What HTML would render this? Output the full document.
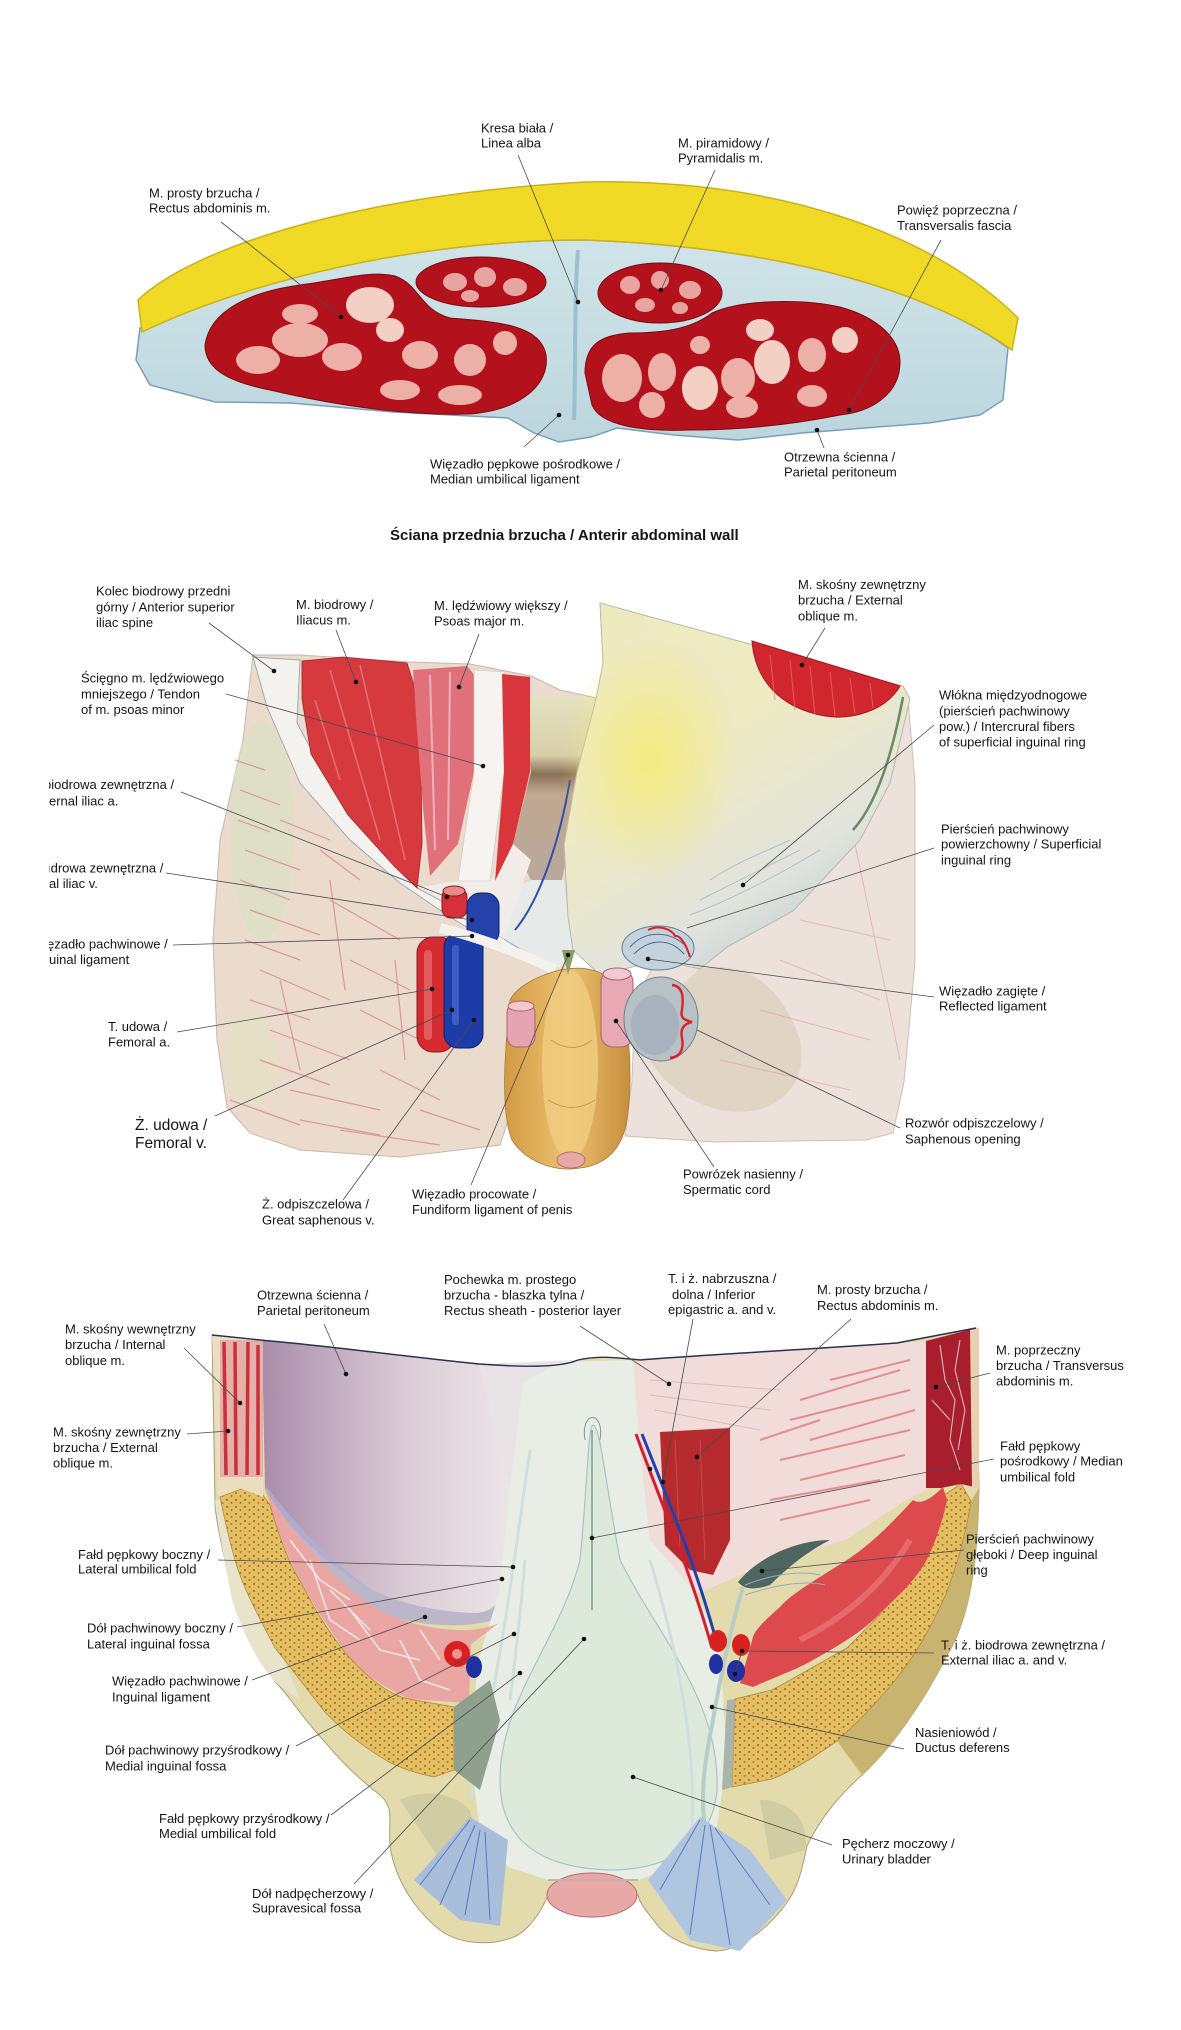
<!DOCTYPE html>
<html><head><meta charset="utf-8">
<style>
html,body{margin:0;padding:0;background:#fff;}
svg{display:block;}
text{font-family:"Liberation Sans",Arial,sans-serif;font-size:13px;fill:#151515;}
.b{font-weight:bold;font-size:15px;}
.big{font-size:15.5px;}
</style></head><body>
<svg width="1181" height="2030" viewBox="0 0 1181 2030" xmlns="http://www.w3.org/2000/svg">
<defs>
 <pattern id="dots" width="9" height="7" patternUnits="userSpaceOnUse">
  <rect width="9" height="7" fill="#e3bf62"/>
  <ellipse cx="2" cy="2" rx="1.1" ry="0.7" fill="#8a4a1a"/>
  <ellipse cx="6.5" cy="5" rx="1" ry="0.7" fill="#9a5a20"/>
 </pattern>
 <linearGradient id="lav" x1="0" x2="1" y1="0" y2="0">
  <stop offset="0" stop-color="#a88ca8"/><stop offset="0.25" stop-color="#bfa8bf"/><stop offset="0.6" stop-color="#dccdd6"/><stop offset="1" stop-color="#ebe6e8"/>
 </linearGradient>
 <linearGradient id="flap" x1="0" y1="0" x2="0.6" y2="1">
  <stop offset="0" stop-color="#eeeac0"/><stop offset="0.45" stop-color="#eeeac2"/><stop offset="0.8" stop-color="#e2e4dc"/><stop offset="1" stop-color="#c6d0d8"/>
 </linearGradient>
 <radialGradient id="yel" cx="0.5" cy="0.5" r="0.5"><stop offset="0" stop-color="#f3ec80"/><stop offset="1" stop-color="#f3ec80" stop-opacity="0"/></radialGradient>
 <linearGradient id="penis" x1="0" x2="1"><stop offset="0" stop-color="#d29a44"/><stop offset="0.5" stop-color="#ecc270"/><stop offset="1" stop-color="#c68e3e"/></linearGradient>
 <linearGradient id="blueband" x1="0" x2="0" y1="0" y2="1"><stop offset="0" stop-color="#cfe4e8"/><stop offset="1" stop-color="#bcd6de"/></linearGradient>
 <linearGradient id="brn" x1="0" x2="0" y1="0" y2="1"><stop offset="0" stop-color="#e4e2c0"/><stop offset="0.3" stop-color="#d8cfa8"/><stop offset="0.4" stop-color="#8a7058"/><stop offset="0.5" stop-color="#c0a890"/><stop offset="1" stop-color="#b8a8a0"/></linearGradient>
 <clipPath id="lclip"><rect x="49" y="0" width="300" height="2030"/></clipPath>
</defs>
<rect width="1181" height="2030" fill="#fff"/>

<!-- ================= TOP ILLUSTRATION ================= -->
<path d="M140,328 C250,280 420,240 585,240 C800,248 940,298 1008,348 L1003,400 L980,415 L929,423 L865,428 L802,433 L738,440 L674,435 L617,428 L591,437 L559,442 L534,433 L508,418 L393,412 L291,403 L215,402 L150,385 L136,360 Z" fill="url(#blueband)" stroke="#7c9fb4" stroke-width="1.5"/>
<path d="M578,250 C574,300 576,360 574,420" stroke="#9cc0cc" stroke-width="4" fill="none"/>
<path d="M138,300 C190,250 350,195 585,182 C790,178 940,240 1018,318 L1012,350 C940,298 800,248 585,240 C420,240 250,280 142,332 Z" fill="#f1da25" stroke="#c9b01c" stroke-width="1.5"/>
<!-- left rectus -->
<path d="M205,345 C210,310 250,292 300,285 C340,280 370,270 395,276 C420,285 420,310 450,318 C500,322 540,325 546,355 C550,385 520,410 470,414 C400,416 330,404 270,390 C230,382 205,370 205,345 Z" fill="#b3121c" stroke="#7a0a10" stroke-width="1"/>
<g fill="#ecb0a6">
<ellipse cx="370" cy="305" rx="24" ry="18" fill="#f3cfc4"/><ellipse cx="300" cy="340" rx="28" ry="17"/><ellipse cx="342" cy="357" rx="20" ry="14"/><ellipse cx="258" cy="360" rx="22" ry="14"/><ellipse cx="420" cy="355" rx="18" ry="14"/><ellipse cx="470" cy="360" rx="16" ry="16"/><ellipse cx="505" cy="343" rx="12" ry="12"/><ellipse cx="300" cy="314" rx="18" ry="10"/><ellipse cx="400" cy="390" rx="20" ry="10"/><ellipse cx="460" cy="395" rx="22" ry="10"/><ellipse cx="390" cy="330" rx="14" ry="12" fill="#f3cfc4"/></g>
<ellipse cx="481" cy="282" rx="65" ry="25" fill="#b3121c" stroke="#7a0a10"/>
<g fill="#e8a4a0"><ellipse cx="455" cy="282" rx="12" ry="9"/><ellipse cx="485" cy="277" rx="11" ry="10"/><ellipse cx="515" cy="287" rx="12" ry="9"/><ellipse cx="470" cy="296" rx="9" ry="6"/></g>
<ellipse cx="660" cy="293" rx="62" ry="30" fill="#b3121c" stroke="#7a0a10"/>
<g fill="#e8a4a0"><ellipse cx="630" cy="285" rx="10" ry="9"/><ellipse cx="660" cy="280" rx="9" ry="9"/><ellipse cx="690" cy="290" rx="11" ry="9"/><ellipse cx="645" cy="305" rx="10" ry="7"/><ellipse cx="680" cy="308" rx="8" ry="6"/></g>
<!-- right rectus -->
<path d="M585,373 C585,345 600,335 630,333 C660,333 690,330 712,313 C740,300 800,298 840,307 C880,318 900,340 900,362 C900,395 870,412 840,415 C790,425 740,430 690,430 C640,432 600,425 592,405 Z" fill="#b3121c" stroke="#7a0a10"/>
<g fill="#ecb0a6">
<ellipse cx="622" cy="378" rx="20" ry="24"/><ellipse cx="662" cy="372" rx="14" ry="19"/><ellipse cx="700" cy="388" rx="18" ry="22" fill="#f3cfc4"/><ellipse cx="738" cy="378" rx="17" ry="20"/><ellipse cx="772" cy="362" rx="18" ry="22" fill="#f3cfc4"/><ellipse cx="812" cy="355" rx="14" ry="17"/><ellipse cx="760" cy="330" rx="14" ry="11" fill="#f3cfc4"/><ellipse cx="845" cy="340" rx="13" ry="13" fill="#f3cfc4"/><ellipse cx="700" cy="345" rx="10" ry="9"/><ellipse cx="652" cy="405" rx="13" ry="13"/><ellipse cx="742" cy="407" rx="16" ry="11"/><ellipse cx="812" cy="396" rx="15" ry="11"/></g>

<g stroke="#4a4a4a" stroke-width="0.8">
<line x1="518" y1="155" x2="578" y2="302"/>
<line x1="715" y1="170" x2="661" y2="290"/>
<line x1="221" y1="222" x2="341" y2="317"/>
<line x1="941" y1="240" x2="849" y2="410"/>
<line x1="524" y1="447" x2="559" y2="415"/>
<line x1="824" y1="448" x2="817" y2="430"/>
</g>
<g fill="#111"><circle cx="578" cy="302" r="2.3"/><circle cx="661" cy="290" r="2.3"/><circle cx="341" cy="317" r="2.3"/><circle cx="849" cy="410" r="2.3"/><circle cx="559" cy="415" r="2.3"/><circle cx="817" cy="430" r="2.3"/></g>

<text x="481" y="132.5">Kresa biała /</text><text x="481" y="147.5">Linea alba</text>
<text x="678" y="147.5">M. piramidowy /</text><text x="678" y="162.5">Pyramidalis m.</text>
<text x="149" y="197.5">M. prosty brzucha /</text><text x="149" y="212.5">Rectus abdominis m.</text>
<text x="897" y="214.5">Powięź poprzeczna /</text><text x="897" y="230">Transversalis fascia</text>
<text x="430" y="468.5">Więzadło pępkowe pośrodkowe /</text><text x="430" y="483.5">Median umbilical ligament</text>
<text x="784" y="461.5">Otrzewna ścienna /</text><text x="784" y="476.5">Parietal peritoneum</text>
<text x="390" y="540" class="b">Ściana przednia brzucha / Anterir abdominal wall</text>

<!-- ================= MIDDLE ILLUSTRATION ================= -->
<!-- left thigh -->
<path d="M253,655 L300,655 L410,662 L470,664 L531,676 L560,690 L597,698 L577,772 L564,844 L568,917 L573,950 L560,975 L540,1000 L515,1100 L500,1145 L400,1157 L300,1150 L250,1133 L227,1107 L217,1040 L213,940 L220,840 L243,740 Z" fill="#eadbcc" stroke="#c8b8a8" stroke-width="1"/>
<ellipse cx="262" cy="830" rx="32" ry="110" fill="#d6e2c4" opacity="0.55"/>
<ellipse cx="250" cy="1060" rx="25" ry="50" fill="#e0e4c4" opacity="0.5"/>
<g stroke="#d36a7a" stroke-width="1.2" opacity="0.6" fill="none">
<path d="M235,760 L265,770"/><path d="M240,790 L280,805"/><path d="M238,820 L270,832"/><path d="M245,850 L300,870"/><path d="M240,880 L290,900"/><path d="M250,910 L320,935"/><path d="M245,940 L300,960"/><path d="M260,970 L330,1000"/><path d="M250,1000 L310,1020"/><path d="M270,1030 L350,1060"/><path d="M260,1060 L330,1085"/><path d="M290,1090 L380,1110"/><path d="M300,760 L330,800"/><path d="M320,850 L360,880"/><path d="M330,900 L400,940"/><path d="M350,960 L410,990"/><path d="M360,1010 L420,1040"/><path d="M380,1070 L440,1100"/><path d="M300,1120 L380,1135"/><path d="M395,960 L405,1060"/><path d="M280,980 L300,1070"/><path d="M330,880 L345,990"/><path d="M280,820 L330,840"/><path d="M230,1100 L300,1125"/><path d="M340,1130 L440,1145"/><path d="M420,1110 L480,1130"/>
</g>
<!-- right thigh -->
<path d="M908,699 L915,783 L915,962 L904,1082 L893,1133 L866,1140 L715,1142 L625,1136 L632,1081 L635,1000 L660,954 L692,935 L738,906 L807,866 L871,801 L890,772 Z" fill="#ece1db" stroke="#cdbfb8" stroke-width="1"/>
<path d="M700,969 C740,960 780,980 800,1040 C810,1090 770,1120 720,1110 C680,1100 640,1070 640,1020 Z" fill="#d9cbb6" opacity="0.6"/>
<g stroke="#dba0ac" stroke-width="1" opacity="0.6"><path d="M780,960 L880,1000"/><path d="M760,1010 L870,1040"/><path d="M800,920 L890,940"/><path d="M720,1060 L850,1090"/><path d="M850,820 L900,1060"/></g>
<!-- central brownish -->
<path d="M520,697 L597,698 L577,772 L568,850 L560,890 L531,880 L513,844 L531,772 Z" fill="url(#brn)"/>
<path d="M504,939 L559,968 L573,950 L568,917 L564,880 L531,880 L510,890 Z" fill="#e6ebea"/>
<path d="M570,780 C560,840 540,900 515,930" stroke="#3050a8" stroke-width="2" fill="none"/>
<!-- right flap -->
<path d="M600,603 L903,686 L910,699 L890,783 L860,840 L793,911 L727,947 L700,969 L660,960 L640,965 L600,975 L573,950 L568,917 L564,844 L577,772 L596,699 L603,663 Z" fill="url(#flap)" stroke="#b8b8a8" stroke-width="1"/>
<ellipse cx="650" cy="760" rx="90" ry="120" fill="url(#yel)"/>
<path d="M903,697 C895,740 880,800 853,830" stroke="#6a8a60" stroke-width="2.5" fill="none"/>
<g stroke="#9eb0c0" stroke-width="1" opacity="0.7" fill="none"><path d="M700,900 C740,880 780,860 800,850"/><path d="M690,915 C730,900 770,880 820,850"/><path d="M710,880 C740,860 770,850 790,840"/></g>
<path d="M752,641 L900,686 C885,712 850,720 825,716 C780,708 755,680 752,641 Z" fill="#d2262e" stroke="#a01820"/>
<g stroke="#f07070" stroke-width="1" opacity="0.7"><path d="M770,655 L775,700"/><path d="M790,660 L795,710"/><path d="M810,666 L815,715"/><path d="M830,672 L835,716"/><path d="M850,678 L855,714"/><path d="M870,683 L873,708"/></g>
<!-- left white band (inguinal lig + spine) -->
<path d="M253,657 L300,660 L297,723 L333,790 L377,847 L417,888 L462,912 L504,939 L553,970 L500,947 L450,917 L400,883 L350,840 L300,783 L267,707 Z" fill="#f4f2ef" stroke="#9aa4b0" stroke-width="0.9"/>
<path d="M413,884 L421,887 L458,881 L490,881 L513,844 L531,860 L504,939 L462,912 Z" fill="#f1ece8"/>
<!-- iliacus -->
<path d="M302,661 L343,657 L407,663 L414,685 L421,772 L422,844 L417,888 L394,866 L348,815 L311,754 L302,699 Z" fill="#d63a3e" stroke="#a52228" stroke-width="0.8"/>
<g stroke="#ec8a88" stroke-width="1.5" opacity="0.7"><path d="M330,670 L380,840"/><path d="M360,665 L405,860"/><path d="M315,700 L340,780"/></g>
<!-- psoas -->
<path d="M413,670 L467,666 L476,677 L474,772 L458,844 L430,876 L423,808 L416,717 Z" fill="#e0707a"/>
<g stroke="#f4c0c4" stroke-width="2" opacity="0.8"><path d="M430,675 L435,850"/><path d="M450,672 L448,840"/></g>
<path d="M474,670 L504,672 L504,772 L490,881 L458,881 L474,772 Z" fill="#f6f3f0" stroke="#c8c8c8" stroke-width="0.6"/>
<path d="M502,674 L530,677 L530,772 L513,844 L495,881 L504,772 Z" fill="#d8363c"/>
<!-- vessels -->
<rect x="442" y="888" width="25" height="30" rx="9" fill="#d8303a" stroke="#8a1a20"/>
<ellipse cx="454" cy="891" rx="11" ry="5" fill="#e88a8a" stroke="#8a1a20"/>
<rect x="467" y="893" width="32" height="52" rx="13" fill="#2442aa" stroke="#10206a"/>
<rect x="417" y="937" width="38" height="115" rx="16" fill="#d42a30" stroke="#8a1a20"/>
<rect x="424" y="950" width="8" height="90" rx="4" fill="#ea7070" opacity="0.7"/>
<rect x="444" y="933" width="39" height="115" rx="14" fill="#1e3ca8" stroke="#10206a"/>
<rect x="452" y="945" width="7" height="80" rx="3" fill="#4a6ad0" opacity="0.7"/>
<path d="M440,928 C470,935 520,952 555,970" stroke="#f4f2ef" stroke-width="10" fill="none"/>
<!-- penis -->
<path d="M510,1000 C505,1050 500,1110 512,1140 C528,1165 560,1172 580,1168 C605,1165 622,1150 627,1120 C633,1080 630,1020 618,990 C608,970 585,965 560,970 C540,975 518,985 510,1000 Z" fill="url(#penis)" stroke="#a87838" stroke-width="0.8"/>
<ellipse cx="570" cy="1065" rx="28" ry="95" fill="#f0cc80" opacity="0.85"/>
<path d="M551,1040 C565,1050 580,1050 592,1040" stroke="#c8984a" fill="none"/>
<path d="M548,1100 C565,1110 580,1110 595,1100" stroke="#c8984a" fill="none"/>
<ellipse cx="571" cy="1160" rx="14" ry="8" fill="#e8a8a8" stroke="#b07070"/>
<rect x="507" y="1003" width="28" height="44" rx="10" fill="#e6a4b0" stroke="#a86070"/>
<ellipse cx="521" cy="1006" rx="13" ry="5" fill="#f4c8d0" stroke="#a86070"/>
<rect x="601" y="970" width="32" height="77" rx="12" fill="#e8a8b4" stroke="#a86070"/>
<ellipse cx="617" cy="974" rx="14" ry="6" fill="#f4c8d0" stroke="#a86070"/>
<path d="M562,950 L568,975 L575,950 Z" fill="#8aa060"/>
<!-- rings -->
<ellipse cx="658" cy="948" rx="36" ry="22" fill="#c4d2dc" stroke="#6080a0"/>
<g stroke="#4a6a90" stroke-width="1" fill="none"><path d="M630,947 C645,930 670,930 687,947"/><path d="M634,954 C650,938 670,938 684,954"/></g>
<ellipse cx="661" cy="1019" rx="37" ry="42" fill="#b8c0c8" stroke="#708090"/>
<ellipse cx="655" cy="1025" rx="24" ry="30" fill="#9ca8b4" opacity="0.6"/>
<path d="M648,930 C660,924 672,930 675,936 C680,935 686,944 690,957" stroke="#e02020" stroke-width="2" fill="none"/>
<path d="M672,985 C682,986 684,995 682,1010 C680,1018 684,1020 692,1022 C684,1024 680,1028 682,1038 C684,1050 680,1057 670,1058" stroke="#e02020" stroke-width="2.4" fill="none"/>

<g stroke="#4a4a4a" stroke-width="0.8">
<line x1="209" y1="623" x2="274" y2="671"/>
<line x1="336" y1="630" x2="356" y2="682"/>
<line x1="479" y1="634" x2="459" y2="687"/>
<line x1="825" y1="628" x2="802" y2="665"/>
<line x1="226" y1="694" x2="483" y2="766"/>
<line x1="934" y1="725" x2="743" y2="885"/>
<line x1="181" y1="792" x2="447" y2="897"/>
<line x1="166" y1="873" x2="472" y2="920"/>
<line x1="173" y1="945" x2="472" y2="936"/>
<line x1="177" y1="1032" x2="432" y2="989"/>
<line x1="215" y1="1116" x2="452" y2="1010"/>
<line x1="343" y1="1200" x2="474" y2="1020"/>
<line x1="471" y1="1185" x2="568" y2="955"/>
<line x1="714" y1="1167" x2="616" y2="1021"/>
<line x1="900" y1="1128" x2="697" y2="1030"/>
<line x1="934" y1="997" x2="648" y2="959"/>
<line x1="934" y1="848" x2="687" y2="928"/>
</g>
<g fill="#111">
<circle cx="274" cy="671" r="2.3"/><circle cx="356" cy="682" r="2.3"/><circle cx="459" cy="687" r="2.3"/><circle cx="802" cy="665" r="2.3"/><circle cx="483" cy="766" r="2.3"/><circle cx="743" cy="885" r="2.3"/><circle cx="447" cy="897" r="2.3"/><circle cx="472" cy="920" r="2.3"/><circle cx="472" cy="936" r="2.3"/><circle cx="432" cy="989" r="2.3"/><circle cx="452" cy="1010" r="2.3"/><circle cx="474" cy="1020" r="2.3"/><circle cx="568" cy="955" r="2.3"/><circle cx="616" cy="1021" r="2.3"/><circle cx="648" cy="959" r="2.3"/>
</g>

<text x="96" y="595.5">Kolec biodrowy przedni</text><text x="96" y="611.5">górny / Anterior superior</text><text x="96" y="627">iliac spine</text>
<text x="296" y="609">M. biodrowy /</text><text x="296" y="624.5">Iliacus m.</text>
<text x="434" y="610">M. lędźwiowy większy /</text><text x="434" y="625.5">Psoas major m.</text>
<text x="798" y="589">M. skośny zewnętrzny</text><text x="798" y="604.5">brzucha / External</text><text x="798" y="620.5">oblique m.</text>
<text x="81" y="682.5">Ścięgno m. lędźwiowego</text><text x="81" y="698.5">mniejszego / Tendon</text><text x="81" y="714">of m. psoas minor</text>
<text x="939" y="699.5">Włókna międzyodnogowe</text><text x="939" y="715.5">(pierścień pachwinowy</text><text x="939" y="731">pow.) / Intercrural fibers</text><text x="939" y="746.5">of superficial inguinal ring</text>
<g clip-path="url(#lclip)">
<text x="44" y="789">biodrowa zewnętrzna /</text><text x="49" y="805.5">ernal iliac a.</text>
<text x="47" y="872.5">ıdrowa zewnętrzna /</text><text x="49" y="888">al iliac v.</text>
<text x="47" y="948.5">ęzadło pachwinowe /</text><text x="49" y="964">uinal ligament</text>
</g>
<text x="941" y="833.5">Pierścień pachwinowy</text><text x="941" y="848.5">powierzchowny / Superficial</text><text x="941" y="864.5">inguinal ring</text>
<text x="939" y="995.5">Więzadło zagięte /</text><text x="939" y="1010.5">Reflected ligament</text>
<text x="108" y="1031">T. udowa /</text><text x="108" y="1046.5">Femoral a.</text>
<text x="135" y="1130" class="big">Ż. udowa /</text><text x="135" y="1148" class="big">Femoral v.</text>
<text x="905" y="1127.5">Rozwór odpiszczelowy /</text><text x="905" y="1143.5">Saphenous opening</text>
<text x="683" y="1178.5">Powrózek nasienny /</text><text x="683" y="1194">Spermatic cord</text>
<text x="412" y="1198.5">Więzadło procowate /</text><text x="412" y="1214">Fundiform ligament of penis</text>
<text x="262" y="1208.5">Ż. odpiszczelowa /</text><text x="262" y="1224.5">Great saphenous v.</text>

<!-- ================= BOTTOM ILLUSTRATION ================= -->
<path d="M212,1335 L260,1340 C330,1346 400,1356 479,1364 C520,1367 560,1368 578,1360 C600,1355 620,1358 640,1360 C700,1355 800,1350 897,1343 L976,1328 L979,1488 C978,1560 970,1620 946,1657 C925,1700 890,1750 862,1775 C840,1795 822,1815 807,1846 C802,1870 798,1890 782,1909 C765,1930 740,1950 717,1951 C695,1950 670,1940 658,1926 C650,1915 640,1905 638,1895 L548,1895 C540,1915 525,1935 508,1939 C490,1945 460,1945 440,1930 C415,1910 395,1880 390,1846 C388,1820 395,1808 380,1795 C360,1780 340,1760 324,1741 C300,1715 285,1690 275,1682 C250,1640 232,1600 225,1560 C218,1530 215,1510 215,1501 Z" fill="#e3dbac" stroke="#a8a078" stroke-width="1"/>
<!-- dark olive right outer -->
<path d="M979,1488 C978,1560 970,1620 946,1657 C925,1700 890,1750 862,1775 L837,1741 C855,1725 875,1705 897,1678 C915,1655 930,1630 946,1594 C955,1570 965,1540 971,1501 Z" fill="#c8b470"/>
<path d="M215,1501 C218,1530 225,1560 232,1600 C245,1640 260,1665 275,1682 L300,1700 C285,1660 265,1620 250,1580 C238,1545 228,1515 225,1497 Z" fill="#e8e4cc"/>
<path d="M400,1800 C420,1790 450,1790 470,1810 L480,1850 L440,1860 Z" fill="#c8c8a0" opacity="0.7"/>
<path d="M760,1800 C790,1800 810,1820 805,1850 L770,1860 Z" fill="#c8c8a0" opacity="0.7"/>
<!-- lavender -->
<path d="M262,1340 C330,1346 400,1356 479,1364 L505,1368 L510,1488 C512,1540 510,1580 500,1600 C490,1615 470,1615 440,1612 C400,1605 367,1590 340,1570 C300,1540 280,1515 265,1488 Z" fill="url(#lav)"/>
<path d="M267,1487 C300,1530 330,1560 367,1587 C400,1605 440,1612 477,1613 C490,1612 498,1605 500,1597 L505,1615 C480,1628 440,1628 399,1619 C360,1605 330,1585 300,1550 C285,1530 272,1505 265,1490 Z" fill="#b0aed0" opacity="0.8"/>
<path d="M479,1364 L578,1360 L600,1380 L590,1600 L520,1650 L505,1615 L510,1488 Z" fill="#e8e4e6"/>
<!-- right pink fibrous -->
<path d="M633,1360 C700,1355 800,1350 897,1343 L930,1341 L930,1488 L906,1500 L847,1539 L747,1572 L697,1594 L650,1540 L633,1450 Z" fill="#f1dcda"/>
<g stroke="#d85a66" stroke-width="2" opacity="0.6"><path d="M800,1400 L900,1370"/><path d="M790,1420 L910,1390"/><path d="M810,1440 L915,1410"/><path d="M780,1460 L910,1430"/><path d="M800,1480 L905,1455"/><path d="M770,1500 L880,1480"/><path d="M830,1380 L910,1360"/><path d="M760,1440 L820,1420"/><path d="M780,1520 L870,1500"/></g>
<g stroke="#c8b8c0" stroke-width="1" opacity="0.8"><path d="M650,1380 L780,1390"/><path d="M650,1395 L770,1410"/><path d="M655,1410 L760,1430"/></g>
<!-- central pale -->
<path d="M558,1362 L633,1360 L640,1450 L650,1540 L697,1594 L720,1650 L727,1762 L717,1825 L697,1859 L638,1880 L548,1880 L508,1867 L479,1825 L469,1741 L479,1657 L499,1594 L510,1488 L523,1383 Z" fill="#e8ede6"/>
<path d="M593,1425 C600,1425 605,1480 620,1560 C660,1640 720,1700 717,1790 C712,1850 660,1870 610,1870 C540,1868 500,1840 500,1780 C500,1700 560,1640 580,1560 C588,1480 588,1425 593,1425 Z" fill="#dde9db" stroke="#a8c4c0" stroke-width="1.2"/>
<path d="M592,1430 L592,1610" stroke="#7c9c98" stroke-width="1.5"/>
<path d="M585,1440 C580,1410 605,1410 600,1440" stroke="#7c9c98" fill="none"/>
<g stroke="#cfe0dc" stroke-width="3" fill="none"><path d="M530,1450 C515,1550 505,1650 470,1800"/><path d="M525,1560 C520,1620 515,1660 510,1700"/><path d="M650,1560 C680,1660 700,1760 690,1860"/></g>
<!-- rectus red + vessels -->
<path d="M660,1432 L730,1428 L730,1540 L713,1575 L690,1570 L665,1545 Z" fill="#b52a2c"/>
<g stroke="#d86060" stroke-width="1" opacity="0.6"><path d="M675,1440 L680,1550"/><path d="M700,1440 L705,1560"/></g>
<path d="M636,1434 C660,1500 690,1570 712,1648" stroke="#d02030" stroke-width="3" fill="none"/>
<path d="M642,1434 C668,1500 698,1570 718,1648" stroke="#2040b0" stroke-width="3" fill="none"/>
<!-- left pink fibrous band -->
<path d="M265,1488 C280,1515 300,1540 330,1570 C349,1589 370,1608 399,1619 C440,1633 480,1633 499,1623 L471,1644 L469,1703 L409,1699 C380,1685 360,1672 349,1657 C330,1630 310,1600 300,1581 C285,1550 275,1525 270,1505 Z" fill="#e9a6a2"/>
<g stroke="#fbeeee" stroke-width="1.5" fill="none" opacity="0.9"><path d="M290,1540 L320,1580 L350,1600"/><path d="M310,1560 L330,1620 L360,1640"/><path d="M350,1610 L380,1650 L420,1660"/><path d="M400,1640 L420,1680 L450,1690"/><path d="M330,1590 L370,1630"/><path d="M420,1630 L440,1660"/></g>
<!-- bones -->
<path d="M255,1484 L270,1505 C280,1540 290,1565 300,1581 C315,1610 330,1635 349,1657 C370,1680 390,1695 409,1699 L454,1707 L454,1770 L434,1777 C410,1772 395,1765 389,1762 C360,1745 340,1728 324,1711 C300,1680 285,1660 275,1648 C255,1610 242,1585 235,1560 C225,1525 222,1505 220,1497 Z" fill="url(#dots)" stroke="#b08a3a" stroke-width="0.8"/>
<path d="M961,1484 L971,1501 C965,1540 955,1570 946,1594 C930,1630 915,1655 897,1678 C875,1705 855,1725 837,1741 C810,1760 790,1772 772,1779 L732,1787 L735,1699 L772,1690 C800,1675 825,1660 847,1648 C870,1625 890,1605 906,1581 C920,1560 932,1530 941,1497 Z" fill="url(#dots)" stroke="#b08a3a" stroke-width="0.8"/>
<path d="M454,1707 L490,1680 L500,1720 L480,1790 L454,1770 Z" fill="#8fa08e"/>
<path d="M727,1700 L735,1699 L732,1787 L722,1790 Z" fill="#a8b4ac"/>
<!-- right red muscle -->
<path d="M943,1487 C930,1500 920,1505 913,1500 C890,1525 870,1545 847,1560 C815,1580 790,1595 780,1607 C765,1620 755,1630 753,1637 L740,1683 L753,1687 C780,1675 800,1668 813,1660 C840,1645 865,1630 880,1613 C905,1590 920,1575 930,1553 C940,1530 945,1510 947,1500 Z" fill="#dc4a4e"/>
<path d="M800,1640 C840,1620 880,1590 910,1540" stroke="#ee8a8a" stroke-width="6" opacity="0.5" fill="none"/>
<path d="M738,1582 C760,1555 800,1540 830,1540 C810,1550 790,1565 770,1585 C755,1590 745,1590 738,1582 Z" fill="#4e6660"/>
<g stroke="#9aa8c0" stroke-width="1" fill="none"><path d="M745,1585 C770,1575 800,1570 820,1575"/><path d="M745,1595 C775,1585 805,1580 825,1585"/></g>
<path d="M743,1587 C730,1630 720,1680 713,1720 C705,1760 700,1790 705,1830" stroke="#b8ccc8" stroke-width="4" fill="none"/>
<!-- side strips -->
<path d="M212,1335 L263,1340 L263,1497 L240,1488 L218,1497 Z" fill="#ecdcc0"/>
<rect x="220" y="1340" width="43" height="137" fill="#e6b0a8"/>
<g stroke="#c8303c" stroke-width="3.5"><path d="M224,1342 L226,1475"/><path d="M235,1342 L236,1475"/><path d="M248,1342 L247,1475"/><path d="M258,1345 L258,1475"/></g>
<path d="M926,1341 L976,1328 L979,1488 L961,1484 L941,1488 L926,1488 Z" fill="#a81e2c"/>
<path d="M970,1330 L979,1328 L979,1488 L972,1488 Z" fill="#e6d0b0"/>
<g stroke="#f0e4e4" stroke-width="1" fill="none" opacity="0.85"><path d="M940,1345 L945,1380 L955,1400 L950,1440 L960,1470"/><path d="M960,1340 L955,1370 L965,1410 L958,1450"/><path d="M932,1400 L950,1420"/></g>
<!-- top edge dark line -->
<path d="M212,1335 L260,1340 C330,1346 400,1356 479,1364 C520,1367 560,1368 578,1360 C600,1355 620,1358 640,1360 C700,1355 800,1350 897,1343 L976,1328" stroke="#2a3050" stroke-width="1.4" fill="none"/>
<!-- vessels -->
<circle cx="457" cy="1654" r="13" fill="#d82020"/><circle cx="457" cy="1654" r="5" fill="#f09090"/>
<ellipse cx="474" cy="1667" rx="8" ry="11" fill="#2030a0"/>
<ellipse cx="718" cy="1641" rx="9" ry="11" fill="#d82020"/><ellipse cx="741" cy="1645" rx="9" ry="11" fill="#d82020"/>
<ellipse cx="716" cy="1664" rx="7" ry="10" fill="#2030a0"/><ellipse cx="736" cy="1671" rx="9" ry="11" fill="#2030a0"/>
<!-- blue fans -->
<path d="M414,1880 L470,1817 L508,1840 L500,1926 L460,1920 Z" fill="#a8bedb"/>
<g stroke="#3a5ab0" stroke-width="1" opacity="0.7"><path d="M470,1820 L420,1885"/><path d="M475,1825 L440,1905"/><path d="M480,1830 L465,1915"/><path d="M485,1832 L490,1920"/></g>
<path d="M648,1880 L700,1817 L750,1850 L787,1900 L740,1951 L690,1940 Z" fill="#b0c6e0"/>
<g stroke="#3a5ab0" stroke-width="1" opacity="0.7"><path d="M700,1820 L660,1890"/><path d="M705,1825 L690,1935"/><path d="M710,1825 L730,1945"/><path d="M715,1828 L770,1905"/></g>
<ellipse cx="592" cy="1895" rx="45" ry="22" fill="#e8a8a8" stroke="#b07070"/>
<path d="M548,1880 L638,1880" stroke="#c8b0a8" stroke-width="2"/>

<g stroke="#4a4a4a" stroke-width="0.8">
<line x1="184" y1="1348" x2="240" y2="1403"/>
<line x1="187" y1="1434" x2="228" y2="1431"/>
<line x1="324" y1="1324" x2="346" y2="1374"/>
<line x1="580" y1="1326" x2="669" y2="1384"/>
<line x1="693" y1="1319" x2="663" y2="1482"/>
<line x1="851" y1="1319" x2="697" y2="1457"/>
<line x1="990" y1="1373" x2="936" y2="1387"/>
<line x1="994" y1="1459" x2="592" y2="1538"/>
<line x1="964" y1="1550" x2="762" y2="1571"/>
<line x1="218" y1="1560" x2="513" y2="1567"/>
<line x1="237" y1="1627" x2="502" y2="1579"/>
<line x1="252" y1="1680" x2="425" y2="1617"/>
<line x1="296" y1="1746" x2="514" y2="1634"/>
<line x1="331" y1="1815" x2="520" y2="1673"/>
<line x1="354" y1="1884" x2="584" y2="1639"/>
<line x1="934" y1="1653" x2="742" y2="1651"/>
<line x1="742" y1="1651" x2="735" y2="1674"/>
<line x1="904" y1="1749" x2="712" y2="1707"/>
<line x1="832" y1="1845" x2="633" y2="1777"/>
</g>
<g fill="#111">
<circle cx="240" cy="1403" r="2.3"/><circle cx="228" cy="1431" r="2.3"/><circle cx="346" cy="1374" r="2.3"/><circle cx="669" cy="1384" r="2.3"/><circle cx="663" cy="1482" r="2.3"/><circle cx="650" cy="1469" r="2.3"/><circle cx="697" cy="1457" r="2.3"/><circle cx="936" cy="1387" r="2.3"/><circle cx="592" cy="1538" r="2.3"/><circle cx="762" cy="1571" r="2.3"/><circle cx="513" cy="1567" r="2.3"/><circle cx="502" cy="1579" r="2.3"/><circle cx="425" cy="1617" r="2.3"/><circle cx="514" cy="1634" r="2.3"/><circle cx="520" cy="1673" r="2.3"/><circle cx="584" cy="1639" r="2.3"/><circle cx="742" cy="1651" r="2.3"/><circle cx="735" cy="1674" r="2.3"/><circle cx="712" cy="1707" r="2.3"/><circle cx="633" cy="1777" r="2.3"/>
</g>

<text x="65" y="1333.5">M. skośny wewnętrzny</text><text x="65" y="1349">brzucha / Internal</text><text x="65" y="1365">oblique m.</text>
<text x="257" y="1299.5">Otrzewna ścienna /</text><text x="257" y="1315">Parietal peritoneum</text>
<text x="444" y="1284">Pochewka m. prostego</text><text x="444" y="1299.5">brzucha - blaszka tylna /</text><text x="444" y="1315">Rectus sheath - posterior layer</text>
<text x="668" y="1283">T. i ż. nabrzuszna /</text><text x="672" y="1299">dolna / Inferior</text><text x="668" y="1314">epigastric a. and v.</text>
<text x="817" y="1294">M. prosty brzucha /</text><text x="817" y="1310">Rectus abdominis m.</text>
<text x="996" y="1354.5">M. poprzeczny</text><text x="996" y="1370">brzucha / Transversus</text><text x="996" y="1385.5">abdominis m.</text>
<text x="53" y="1436.5">M. skośny zewnętrzny</text><text x="53" y="1452">brzucha / External</text><text x="53" y="1467.5">oblique m.</text>
<text x="1000" y="1450.5">Fałd pępkowy</text><text x="1000" y="1465.5">pośrodkowy / Median</text><text x="1000" y="1481.5">umbilical fold</text>
<text x="966" y="1543.5">Pierścień pachwinowy</text><text x="966" y="1559">głęboki / Deep inguinal</text><text x="966" y="1574.5">ring</text>
<text x="78" y="1559">Fałd pępkowy boczny /</text><text x="78" y="1573.5">Lateral umbilical fold</text>
<text x="87" y="1632.5">Dół pachwinowy boczny /</text><text x="87" y="1648.5">Lateral inguinal fossa</text>
<text x="941" y="1649.5">T. i ż. biodrowa zewnętrzna /</text><text x="941" y="1664.5">External iliac a. and v.</text>
<text x="112" y="1685.5">Więzadło pachwinowe /</text><text x="112" y="1701.5">Inguinal ligament</text>
<text x="915" y="1737">Nasieniowód /</text><text x="915" y="1752">Ductus deferens</text>
<text x="105" y="1754.5">Dół pachwinowy przyśrodkowy /</text><text x="105" y="1770.5">Medial inguinal fossa</text>
<text x="159" y="1823">Fałd pępkowy przyśrodkowy /</text><text x="159" y="1838">Medial umbilical fold</text>
<text x="842" y="1848">Pęcherz moczowy /</text><text x="842" y="1863.5">Urinary bladder</text>
<text x="252" y="1898">Dół nadpęcherzowy /</text><text x="252" y="1912.5">Supravesical fossa</text>
</svg>
</body></html>
